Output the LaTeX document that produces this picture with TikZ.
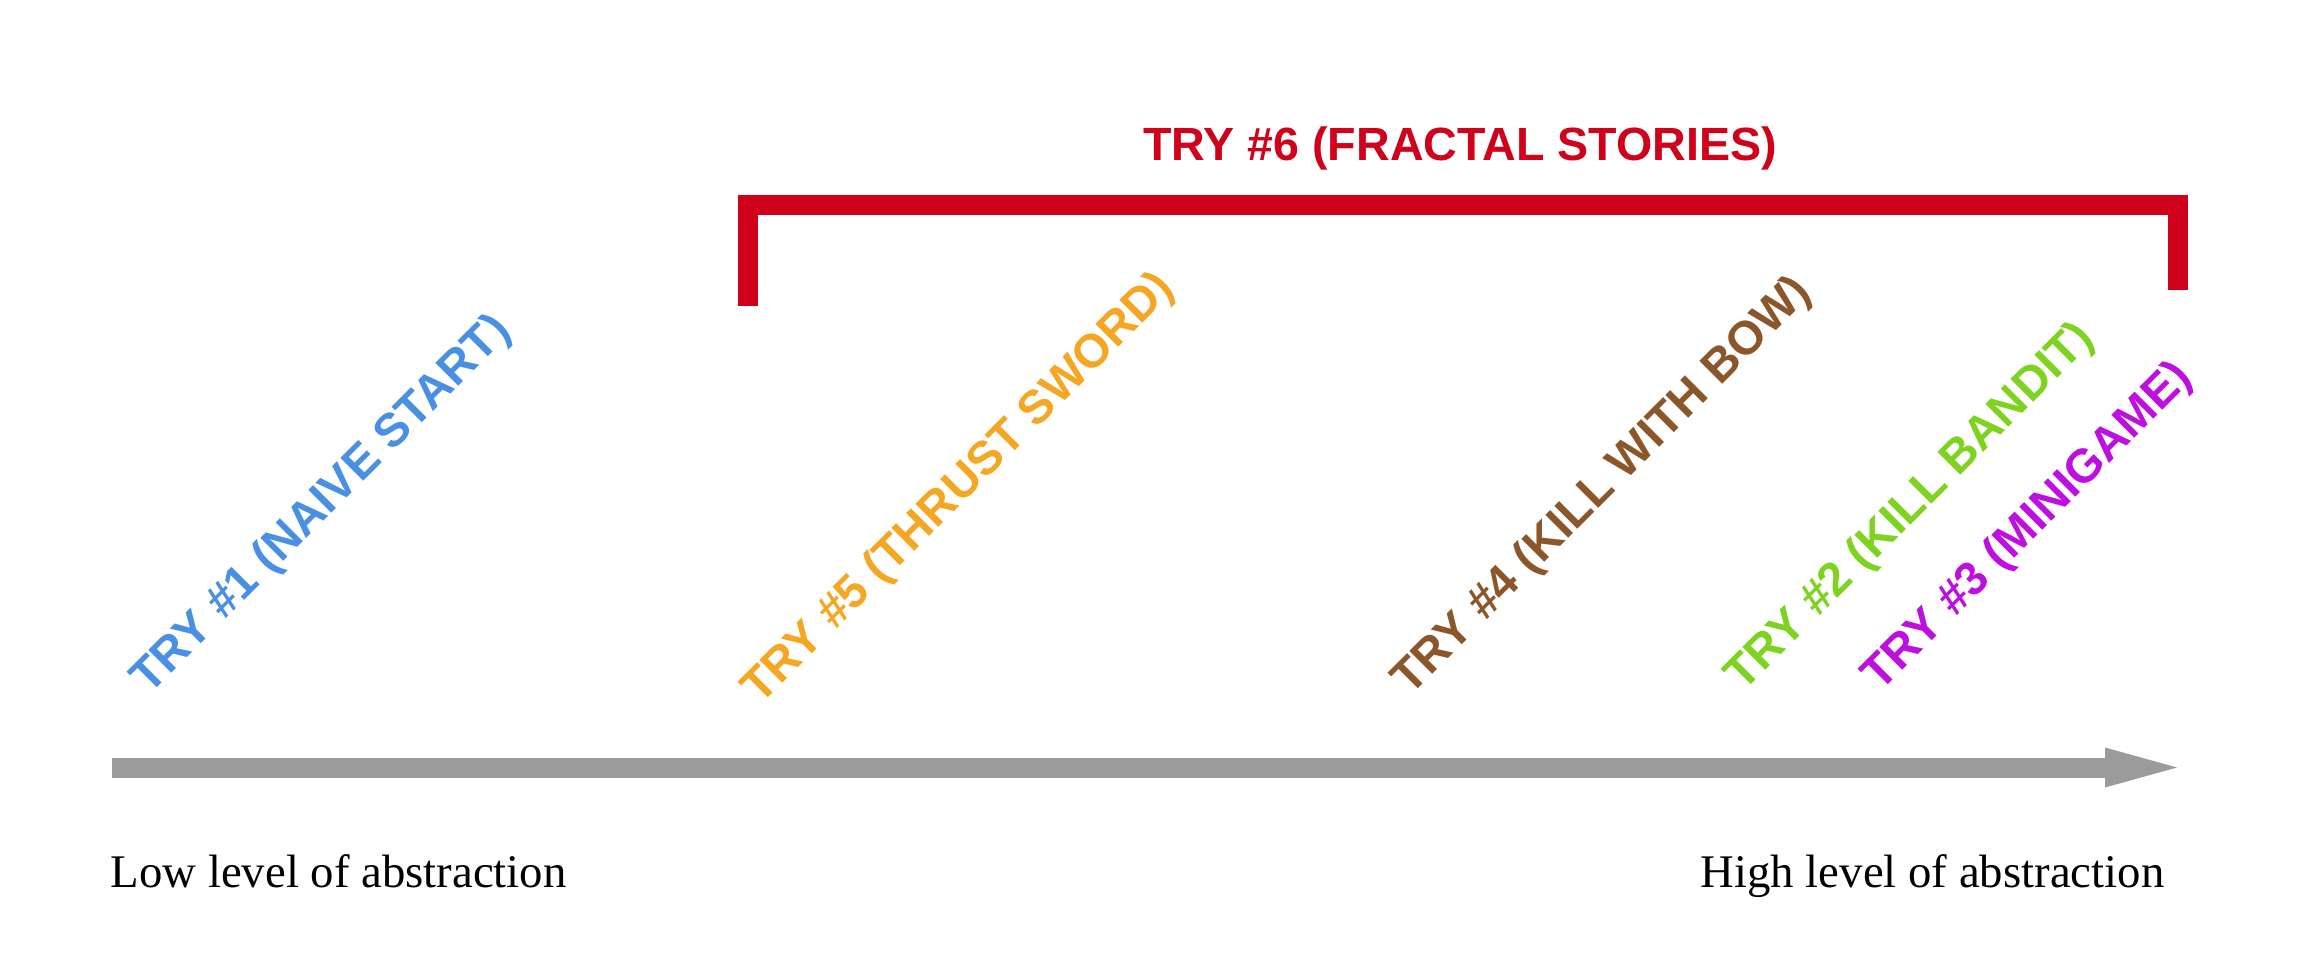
\documentclass[tikz,border=0pt]{standalone}
\usepackage{fontspec}
\setmainfont{Liberation Serif}
\newfontfamily\lblfont{Liberation Sans}
\definecolor{cred}{HTML}{D0021B}
\definecolor{corange}{HTML}{F5A623}
\definecolor{cbrown}{HTML}{8B572A}
\definecolor{cgreen}{HTML}{7ED321}
\definecolor{cpurple}{HTML}{BD10E0}
\definecolor{cblue}{HTML}{4A90E2}
\definecolor{cgray}{HTML}{9B9B9B}
\begin{document}
\begin{tikzpicture}[x=0.01cm,y=-0.01cm,
  try/.style={rotate=45, anchor=base west, inner sep=0pt, font=\lblfont\bfseries\fontsize{13.4}{15}\selectfont},
  titletext/.style={anchor=base, inner sep=0pt, font=\lblfont\bfseries\fontsize{13.25}{15}\selectfont},
  axistext/.style={inner sep=0pt, font=\fontsize{13.3}{16}\selectfont},
  axisline/.style={draw=cgray, line width=0.2cm},
  bracketline/.style={draw=cred, line width=0.2cm, line join=miter}]
\useasboundingbox (0,0) rectangle (2303,970);
% axis
\coordinate (axL) at (112,767.5);
\coordinate (axB) at (2106,767.5);
\coordinate (axR) at (2177,767.5);
\coordinate (axHt) at (2105,747.5);
\coordinate (axHb) at (2105,787.5);
\draw[axisline] (axL) -- (axB);
\fill[cgray] (axHt) -- (axR) -- (axHb) -- cycle;
% bracket
\coordinate (bl) at (747.5,306);
\coordinate (bt1) at (747.5,205);
\coordinate (bt2) at (2178,205);
\coordinate (br) at (2178,290);
\draw[bracketline] (bl) -- (bt1) -- (bt2) -- (br);
\node[titletext, text=cred] (t6) at (1460,161) {TRY \#6 (FRACTAL STORIES)};
% labels
\node[try, text=cblue] (t1) at (149,696) {TRY \#1 (NAIVE START)};
\node[try, text=corange] (t5) at (760,706) {TRY \#5 (THRUST SWORD)};
\node[try, text=cbrown] (t4) at (1410,697) {TRY \#4 (KILL WITH BOW)};
\node[try, text=cgreen] (t2) at (1743,693) {TRY \#2 (KILL BANDIT)};
\node[try, text=cpurple] (t3) at (1880,693) {TRY \#3 (MINIGAME)};
% axis captions
\node[axistext, anchor=base west] (low) at (110,887) {Low level of abstraction};
\node[axistext, anchor=base east] (high) at (2165,887) {High level of abstraction};
\end{tikzpicture}
\end{document}
